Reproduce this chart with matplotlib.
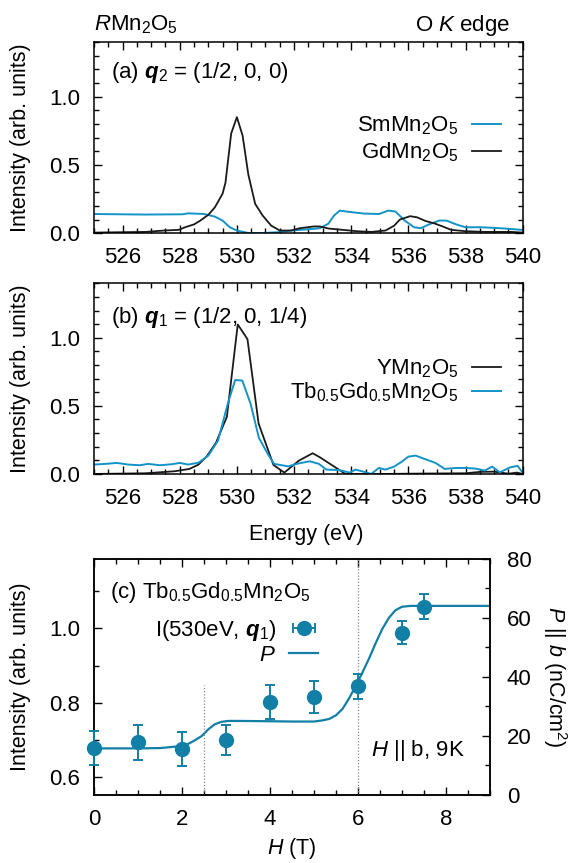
import matplotlib
matplotlib.use('Agg')
import matplotlib.pyplot as plt
from matplotlib.ticker import MultipleLocator

plt.rcParams['font.family'] = ['Liberation Sans', 'DejaVu Sans']
plt.rcParams['mathtext.fontset'] = 'custom'
plt.rcParams['mathtext.rm'] = 'Liberation Sans'
plt.rcParams['mathtext.it'] = 'Liberation Sans:italic'
plt.rcParams['mathtext.bf'] = 'Liberation Sans:bold'
plt.rcParams['mathtext.bfit'] = 'Liberation Sans:italic:bold'

BLUE = '#1393c8'
TEAL = '#127fa6'
BLACK = '#1a1a1a'
FS = 16
LFS = 15.5

# (a) q2 = (1/2, 0, 0)
e_gd = [525.0, 526.8, 527.45, 527.96, 528.2, 528.5, 528.7, 529.0, 529.23, 529.5, 529.6,
        529.8, 530.0, 530.2, 530.4, 530.64, 530.9, 531.2, 531.5, 531.9, 532.2, 532.7, 532.9,
        533.2, 533.7, 534.2, 534.7, 535.2, 535.5, 535.7, 536.06, 536.3, 536.6, 536.9, 537.2,
        537.5, 538.0, 538.7, 539.6, 540.0]
i_gd = [0.005, 0.01, 0.02, 0.025, 0.045, 0.065, 0.09, 0.135, 0.19, 0.29, 0.37,
        0.73, 0.85, 0.715, 0.43, 0.215, 0.13, 0.056, 0.02, 0.02, 0.037, 0.05, 0.05,
        0.035, 0.025, 0.015, 0.01, 0.02, 0.055, 0.1, 0.125, 0.117, 0.09, 0.073, 0.05,
        0.025, 0.015, 0.01, 0.01, 0.005]
e_sm = [525.0, 526.8, 528.1, 528.3, 528.85, 529.23, 529.5, 529.75, 530.0, 530.4, 530.9,
        531.4, 531.9, 532.55, 532.9, 533.2, 533.4, 533.6, 533.95, 534.46, 534.97, 535.3,
        535.55, 535.87, 536.2, 536.44, 536.7, 537.08, 537.33, 537.7, 538.0, 538.55, 539.06,
        539.57, 540.0]
i_sm = [0.141, 0.137, 0.139, 0.146, 0.141, 0.122, 0.093, 0.044, 0.02, 0.002, 0.002,
        0.007, 0.02, 0.03, 0.037, 0.07, 0.13, 0.166, 0.156, 0.144, 0.141, 0.166,
        0.159, 0.093, 0.044, 0.037, 0.063, 0.093, 0.093, 0.063, 0.044, 0.044, 0.039,
        0.032, 0.024]

# (b) q1 = (1/2, 0, 1/4)
e_y = [525.0, 526.8, 527.83, 528.34, 528.65, 528.95, 529.27, 529.65, 530.03, 530.37,
       530.76, 531.28, 531.66, 532.17, 532.65, 532.9, 533.8, 535.0, 536.5, 538.0, 538.5,
       539.0, 539.5, 539.8, 540.0]
i_y = [0.0, 0.005, 0.02, 0.037, 0.068, 0.13, 0.23, 0.42, 1.098, 0.99,
       0.37, 0.066, 0.01, 0.098, 0.152, 0.123, 0.0, 0.0, 0.003, 0.005, 0.015,
       0.017, 0.002, 0.01, 0.0]
e_tb = [525.0, 525.4, 525.8, 526.2, 526.6, 526.9, 527.3, 527.7, 528.0, 528.3, 528.66,
        529.0, 529.34, 529.68, 529.94, 530.19, 530.48, 530.77, 531.08, 531.3, 531.79,
        532.17, 532.55, 532.87, 533.13, 533.57, 533.95, 534.15, 534.46, 534.7, 534.97,
        535.2, 535.5, 535.74, 536.0, 536.25, 536.57, 536.95, 537.27, 537.65, 538.04,
        538.36, 538.67, 538.93, 539.2, 539.57, 539.82, 540.0]
i_tb = [0.069, 0.074, 0.081, 0.069, 0.064, 0.074, 0.064, 0.071, 0.081, 0.069, 0.083,
        0.135, 0.245, 0.515, 0.69, 0.686, 0.515, 0.265, 0.147, 0.074, 0.056,
        0.078, 0.093, 0.074, 0.032, 0.029, 0.01, 0.032, 0.015, 0.0, 0.044,
        0.032, 0.054, 0.086, 0.127, 0.135, 0.11, 0.081, 0.037, 0.044, 0.044,
        0.039, 0.025, 0.054, 0.012, 0.049, 0.059, 0.01]

# (c) field dependence
h_pts = [0, 1, 2, 3, 4, 5, 6, 7, 7.5]
i_pts = [0.679, 0.694, 0.677, 0.700, 0.803, 0.816, 0.844, 0.988, 1.058]
i_err = [0.045, 0.048, 0.046, 0.040, 0.045, 0.042, 0.033, 0.031, 0.034]
h_p = [0, 0.5, 1.0, 1.5, 2.0, 2.15, 2.3, 2.45, 2.6, 2.75, 2.9, 3.05, 3.3, 4.0, 4.5, 5.0,
       5.2, 5.35, 5.5, 5.65, 5.8, 5.95, 6.1, 6.25, 6.4, 6.55, 6.7, 6.85, 7.0, 7.2, 7.5,
       8.0, 9.0]
p_val = [15.8, 15.8, 15.8, 15.9, 16.6, 17.4, 18.6, 20.0, 22.3, 24.0, 24.8, 25.1, 25.1,
         25.0, 24.9, 24.9, 25.3, 25.8, 27.0, 29.2, 32.8, 37.0, 41.5, 46.2, 51.4, 56.2,
         60.0, 62.6, 63.8, 64.1, 64.1, 64.1, 64.1]
h_marks = [2.5, 6.0]
h_mark_top = [0.466, 1.0]


def style(ax, right=True):
    ax.tick_params(which='both', direction='in', top=True, right=right,
                   labelsize=FS, width=1.0)
    ax.tick_params(which='major', length=6, pad=10)
    ax.tick_params(which='minor', length=3.5)
    for s in ax.spines.values():
        s.set_linewidth(1.1)


fig = plt.figure(figsize=(5.71, 8.63), dpi=100)

# panel (a)
ax1 = fig.add_axes([0.1646, 0.7297, 0.7508, 0.2216])
ax1.plot(e_sm, i_sm, color=BLUE, lw=1.4, label=r'SmMn$_2$O$_5$')
ax1.plot(e_gd, i_gd, color=BLACK, lw=1.3, label=r'GdMn$_2$O$_5$')
ax1.set_xlim(525, 540)
ax1.set_ylim(0, 1.4)
ax1.xaxis.set_major_locator(MultipleLocator(2))
ax1.xaxis.set_minor_locator(MultipleLocator(0.5))
ax1.yaxis.set_minor_locator(MultipleLocator(0.1))
style(ax1)
ax1.set_yticks([0, 0.5, 1.0])
ax1.set_yticklabels(['0.0', '0.5', '1.0'])
ax1.set_ylabel('Intensity (arb. units)', fontsize=LFS)
ax1.yaxis.set_label_coords(-0.147, 0.5)
ax1.text(0.04, 0.843, r'(a) $\mathbfit{q}_2$ = (1/2, 0, 0)', transform=ax1.transAxes,
         fontsize=FS, va='center', ha='left')
ax1.legend(loc='upper right', bbox_to_anchor=(0.949, 0.62), frameon=False,
           markerfirst=False, fontsize=FS, handlelength=1.3, handletextpad=0.6,
           borderpad=0, borderaxespad=0, labelspacing=0.15)

fig.text(0.165, 0.971, r'$R$Mn$_2$O$_5$', fontsize=FS, ha='left', va='center')
fig.text(0.893, 0.971, r'O $K$ edge', fontsize=FS, ha='right', va='center')

# panel (b)
ax2 = fig.add_axes([0.1646, 0.4508, 0.7508, 0.2209])
ax2.plot(e_y, i_y, color=BLACK, lw=1.3, label=r'YMn$_2$O$_5$')
ax2.plot(e_tb, i_tb, color=BLUE, lw=1.4, label=r'Tb$_{0.5}$Gd$_{0.5}$Mn$_2$O$_5$')
ax2.set_xlim(525, 540)
ax2.set_ylim(0, 1.4)
ax2.xaxis.set_major_locator(MultipleLocator(2))
ax2.xaxis.set_minor_locator(MultipleLocator(0.5))
ax2.yaxis.set_minor_locator(MultipleLocator(0.1))
style(ax2)
ax2.set_yticks([0, 0.5, 1.0])
ax2.set_yticklabels(['0.0', '0.5', '1.0'])
ax2.set_ylabel('Intensity (arb. units)', fontsize=LFS)
ax2.yaxis.set_label_coords(-0.147, 0.5)
ax2.set_xlabel('Energy (eV)', fontsize=LFS)
ax2.xaxis.set_label_coords(0.495, -0.26)
ax2.text(0.04, 0.82, r'(b) $\mathbfit{q}_1$ = (1/2, 0, 1/4)', transform=ax2.transAxes,
         fontsize=FS, va='center', ha='left')
ax2.legend(loc='upper right', bbox_to_anchor=(0.949, 0.61), frameon=False,
           markerfirst=False, fontsize=FS, handlelength=1.3, handletextpad=0.6,
           borderpad=0, borderaxespad=0, labelspacing=0.02)

# panel (c)
ax3 = fig.add_axes([0.1646, 0.0788, 0.6935, 0.2735])
ax4 = ax3.twinx()
for h, top in zip(h_marks, h_mark_top):
    ax3.axvline(h, ymin=0, ymax=top, color='#888888', lw=0.9, ls=(0, (1, 1.5)))
ax4.plot(h_p, p_val, color=TEAL, lw=1.6, zorder=2)
ax3.set_zorder(ax4.get_zorder() + 1)
ax3.patch.set_visible(False)
ax3.errorbar(h_pts, i_pts, yerr=i_err, fmt='o', color=TEAL, ms=10, capsize=3.5,
             elinewidth=1.4, capthick=1.4, clip_on=False, zorder=4)
eb = ax3.errorbar([float('nan')], [float('nan')], xerr=[0.1], fmt='o', color=TEAL,
                  ms=10, capsize=3.5, elinewidth=1.4, capthick=1.4)
pl, = ax3.plot([float('nan')], [float('nan')], color=TEAL, lw=1.6)
ax3.set_xlim(0, 9)
ax3.set_ylim(0.553, 1.186)
ax4.set_ylim(0, 80)
ax3.xaxis.set_major_locator(MultipleLocator(2))
ax3.xaxis.set_minor_locator(MultipleLocator(0.5))
ax3.yaxis.set_major_locator(MultipleLocator(0.2))
ax3.yaxis.set_minor_locator(MultipleLocator(0.1))
ax4.yaxis.set_major_locator(MultipleLocator(20))
ax4.yaxis.set_minor_locator(MultipleLocator(10))
style(ax3, right=False)
ax4.tick_params(which='both', direction='in', labelsize=FS, width=1.0)
ax4.tick_params(which='major', length=6, pad=12)
ax4.tick_params(which='minor', length=3.5)
for s in ax4.spines.values():
    s.set_linewidth(1.1)
ax3.set_ylabel('Intensity (arb. units)', fontsize=LFS)
ax3.yaxis.set_label_coords(-0.159, 0.5)
ax3.set_xlabel(r'$H$ (T)', fontsize=LFS)
ax3.xaxis.set_label_coords(0.5, -0.172)
ax4.set_ylabel(r'$P$ || $b$ (nC/cm$^2$)', fontsize=LFS, rotation=270, va='center')
ax4.yaxis.set_label_coords(1.163, 0.5)
ax3.text(0.04, 0.856, r'(c) Tb$_{0.5}$Gd$_{0.5}$Mn$_2$O$_5$', transform=ax3.transAxes,
         fontsize=FS, va='center', ha='left')
ax3.text(0.935, 0.19, r'$H$ || b, 9K', transform=ax3.transAxes,
         fontsize=FS, va='center', ha='right')
ax3.legend([eb, pl], [r'I(530eV, $\mathbfit{q}_1$)', r'$P$'],
           loc='upper right', bbox_to_anchor=(0.566, 0.75), frameon=False,
           markerfirst=False, fontsize=FS, handlelength=1.3, handletextpad=0.6,
           borderpad=0, borderaxespad=0, labelspacing=0.1)

fig.savefig('out.png', dpi=100)
